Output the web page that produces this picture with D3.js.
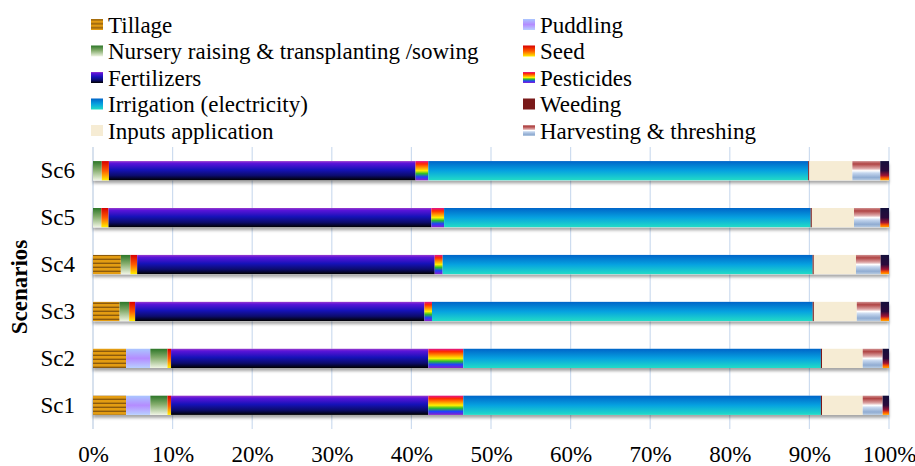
<!DOCTYPE html>
<html>
<head>
<meta charset="utf-8">
<script src="https://cdn.jsdelivr.net/npm/d3@7/dist/d3.min.js"></script>
<style>
  body { margin: 0; background: #fff; }
  svg text { font-family: "Liberation Serif", "Times New Roman", serif; fill: #000; }
</style>
</head>
<body>
<svg id="chart" width="915" height="466"></svg>
<script>
// data, percent of total energy per scenario
const scenarios = ["Sc1", "Sc2", "Sc3", "Sc4", "Sc5", "Sc6"];
const tillage     = [4.15, 4.15, 3.35, 3.5, 0, 0];
const puddling    = [3.05, 3.05, 0, 0, 0, 0];
const nursery     = [2.15, 2.15, 1.2, 1.2, 1.05, 1.1];
const seed        = [0.45, 0.45, 0.75, 0.85, 0.9, 0.9];
const fertilizers = [32.3, 32.3, 36.4, 37.4, 40.6, 38.5];
const pesticides  = [4.4, 4.4, 0.95, 1.0, 1.6, 1.6];
const irrigation  = [44.9, 44.9, 47.9, 46.5, 46.1, 47.7];
const weeding     = [0.15, 0.15, 0.15, 0.15, 0.15, 0.15];
const inputsApp   = [5.1, 5.1, 5.4, 5.3, 5.3, 5.4];
const harvesting  = [2.5, 2.5, 3.0, 3.1, 3.3, 3.5];
const others      = [0.8, 0.8, 1.05, 1.05, 1.1, 1.1];  // last segment, no legend entry
const seriesNames = ["Tillage", "Puddling", "Nursery raising & transplanting /sowing", "Seed",
  "Fertilizers", "Pesticides", "Irrigation (electricity)", "Weeding", "Inputs application",
  "Harvesting & threshing", ""];
const seriesValues = [tillage, puddling, nursery, seed, fertilizers, pesticides, irrigation,
  weeding, inputsApp, harvesting, others];
const xTicks = [0, 0.1, 0.2, 0.3, 0.4, 0.5, 0.6, 0.7, 0.8, 0.9, 1];

const keys = seriesValues.map((d, i) => "s" + i);
const rows = scenarios.map((name, j) => {
  const r = {name};
  seriesValues.forEach((vals, i) => r[keys[i]] = vals[j]);
  return r;
});

const svg = d3.select("#chart");
const defs = svg.append("defs");

// vertical gradients, one per series
function grad(id, stops) {
  const g = defs.append("linearGradient").attr("id", id)
    .attr("x1", 0).attr("y1", 0).attr("x2", 0).attr("y2", 1);
  stops.forEach(s => g.append("stop").attr("offset", s[0]).attr("stop-color", s[1]));
}
const tp = defs.append("pattern").attr("id", "till").attr("patternUnits", "userSpaceOnUse")
  .attr("width", 6).attr("height", 4);
tp.append("rect").attr("width", 6).attr("height", 4).attr("fill", "#e39c12");
tp.append("rect").attr("y", 2.6).attr("width", 6).attr("height", 1.4).attr("fill", "#8c5a0c");

grad("pud", [[0, "#aac6ff"], [0.5, "#b48cff"], [1, "#b8d0ff"]]);
grad("nur", [[0, "#2c7628"], [0.45, "#84ac6c"], [1, "#f0f5e4"]]);
grad("seed", [[0, "#d80000"], [0.5, "#ff5a00"], [1, "#ffef00"]]);
grad("fer", [[0, "#9a3ccc"], [0.12, "#5a14d8"], [0.45, "#1612b8"], [0.75, "#0c0c6c"], [1, "#000000"]]);
grad("pes", [[0, "#e0148c"], [0.15, "#ff2a00"], [0.35, "#ff9c00"], [0.5, "#fff000"],
  [0.65, "#2cc02c"], [0.82, "#2040ff"], [1, "#8a20c8"]]);
grad("irr", [[0, "#0064c8"], [0.5, "#06a2e0"], [1, "#22dcc6"]]);
grad("har", [[0, "#d09090"], [0.15, "#b04444"], [0.38, "#dca4a4"], [0.5, "#ffffff"],
  [0.62, "#c4d6ee"], [0.85, "#90acd2"], [1, "#b8cce2"]]);
grad("oth", [[0, "#14103c"], [0.5, "#2a0a3c"], [0.75, "#a01434"], [0.88, "#ff5a00"], [1, "#ffa800"]]);

const fills = ["url(#till)", "url(#pud)", "url(#nur)", "url(#seed)", "url(#fer)", "url(#pes)",
  "url(#irr)", "#7a1a1a", "#f6ecd4", "url(#har)", "url(#oth)"];

const sh = defs.append("filter").attr("id", "shadow")
  .attr("x", "-5%").attr("y", "-30%").attr("width", "110%").attr("height", "180%");
sh.append("feDropShadow").attr("dx", 0).attr("dy", 3).attr("stdDeviation", 1.6)
  .attr("flood-color", "#000").attr("flood-opacity", 0.35);

const margin = {left: 93, right: 26, top: 147, bottom: 37};
const W = 915, H = 466;
const x = d3.scaleLinear().domain([0, 1]).range([margin.left, W - margin.right]);
const y = d3.scaleBand().domain(scenarios.slice().reverse())
  .range([margin.top, H - margin.bottom]).paddingInner(0.59).paddingOuter(0.3);

// gridlines
svg.append("g").selectAll("line").data(xTicks).join("line")
  .attr("x1", d => x(d)).attr("x2", d => x(d))
  .attr("y1", margin.top).attr("y2", H - margin.bottom)
  .attr("stroke", d => d === 0 ? "#bccde2" : "#cddcef").attr("stroke-width", 1.2);

const stack = d3.stack().keys(keys).offset(d3.stackOffsetExpand);
const layers = stack(rows);

const barG = svg.append("g");
scenarios.forEach(sc => {
  // shadow drawn once per bar
  barG.append("rect").attr("x", x(0)).attr("y", y(sc))
    .attr("width", x(1) - x(0)).attr("height", y.bandwidth())
    .attr("fill", "#fff").attr("filter", "url(#shadow)");
});
layers.forEach((layer, i) => {
  barG.append("g").attr("fill", fills[i]).selectAll("rect").data(layer).join("rect")
    .attr("x", d => x(d[0])).attr("y", d => y(d.data.name))
    .attr("width", d => Math.max(0, x(d[1]) - x(d[0])))
    .attr("height", y.bandwidth());
});

const FS = "23px";

// x axis labels
const xAxis = d3.axisBottom(x).tickValues(xTicks).tickFormat(d3.format(".0%")).tickSize(0).tickPadding(17);
const gx = svg.append("g").attr("transform", `translate(0,${H - margin.bottom})`).call(xAxis);
gx.select(".domain").remove();
gx.selectAll("text").style("font-size", FS);

// y axis labels
const yAxis = d3.axisLeft(y).tickSize(0).tickPadding(18);
const gy = svg.append("g").attr("transform", `translate(${margin.left},0)`).call(yAxis);
gy.select(".domain").remove();
gy.selectAll("text").style("font-size", FS);

svg.append("text").attr("transform", "translate(27,287) rotate(-90)")
  .attr("text-anchor", "middle").style("font-size", FS).style("font-weight", "bold")
  .text("Scenarios");

// legend, two columns
const legendItems = seriesNames.slice(0, 10).map((n, i) => ({n, i}));
const lg = svg.append("g").selectAll("g").data(legendItems).join("g")
  .attr("transform", d => `translate(${d.i % 2 === 0 ? 91 : 523},${24.5 + Math.floor(d.i / 2) * 26.5})`);
lg.append("rect").attr("x", 0).attr("y", -5.5).attr("width", 12).attr("height", 11)
  .attr("fill", d => fills[d.i]);
lg.append("text").attr("x", 17).attr("y", 8).style("font-size", FS).text(d => d.n);
</script>
</body>
</html>
